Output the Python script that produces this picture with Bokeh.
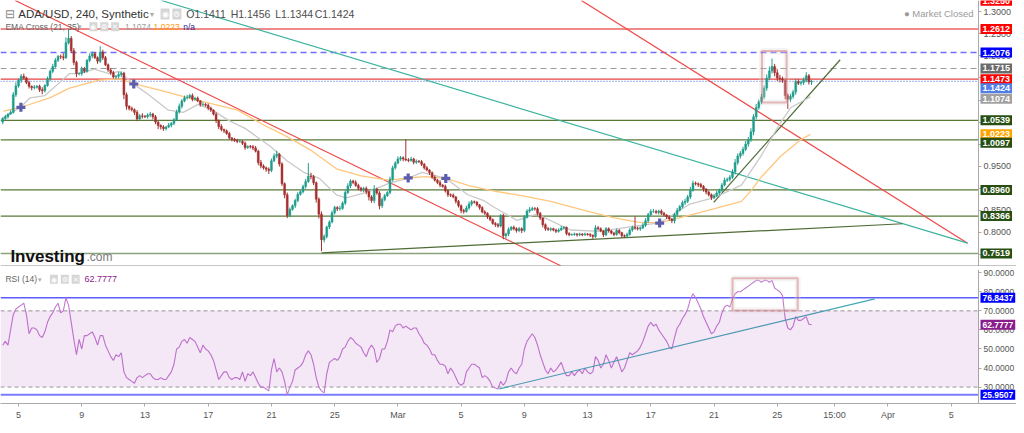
from bokeh.plotting import figure
from bokeh.models import (ColumnDataSource, Span, Label, BoxAnnotation, FixedTicker,
                          NumeralTickFormatter, Range1d)
from bokeh.layouts import column
from bokeh.embed import file_html
from bokeh.resources import INLINE

# ---------------- data (x = days since 1 Feb 2021, 4h candles) ----------------
start_day = 3.0
step = 1.0 / 6.0
first_open = 1.050
closes = [
    1.058, 1.062, 1.068, 1.072, 1.112, 1.132, 1.145, 1.154, 1.150, 1.140,
    1.131, 1.128, 1.129, 1.131, 1.123, 1.121, 1.133, 1.148, 1.165, 1.176,
    1.190, 1.199, 1.198, 1.196, 1.230, 1.240, 1.212, 1.185, 1.160, 1.160,
    1.171, 1.165, 1.190, 1.200, 1.205, 1.196, 1.188, 1.209, 1.196, 1.180,
    1.168, 1.162, 1.152, 1.154, 1.158, 1.161, 1.112, 1.086, 1.081, 1.078,
    1.072, 1.057, 1.064, 1.063, 1.062, 1.066, 1.068, 1.062, 1.050, 1.042,
    1.039, 1.035, 1.039, 1.043, 1.047, 1.055, 1.073, 1.086, 1.098, 1.105,
    1.106, 1.110, 1.102, 1.104, 1.098, 1.090, 1.090, 1.088, 1.082, 1.077,
    1.068, 1.053, 1.040, 1.033, 1.030, 1.024, 1.014, 1.011, 1.008, 1.006,
    1.006, 1.002, 0.992, 0.995, 0.994, 0.991, 0.984, 0.958, 0.950, 0.946,
    0.943, 0.940, 0.962, 0.973, 0.977, 0.955, 0.910, 0.885, 0.838, 0.852,
    0.860, 0.872, 0.886, 0.892, 0.904, 0.915, 0.927, 0.926, 0.912, 0.875,
    0.841, 0.783, 0.790, 0.812, 0.823, 0.844, 0.856, 0.853, 0.854, 0.866,
    0.890, 0.905, 0.916, 0.913, 0.906, 0.900, 0.896, 0.899, 0.892, 0.880,
    0.872, 0.898, 0.889, 0.860, 0.874, 0.883, 0.890, 0.920, 0.946, 0.957,
    0.966, 0.969, 0.966, 0.964, 0.963, 0.966, 0.959, 0.961, 0.960, 0.954,
    0.946, 0.941, 0.935, 0.925, 0.918, 0.913, 0.907, 0.904, 0.894, 0.885,
    0.884, 0.880, 0.870, 0.860, 0.849, 0.847, 0.855, 0.864, 0.869, 0.868,
    0.862, 0.856, 0.846, 0.843, 0.835, 0.829, 0.820, 0.817, 0.814, 0.838,
    0.792, 0.796, 0.806, 0.811, 0.808, 0.804, 0.808, 0.804, 0.834, 0.848,
    0.851, 0.854, 0.853, 0.843, 0.832, 0.817, 0.808, 0.806, 0.808, 0.805,
    0.802, 0.805, 0.809, 0.811, 0.797, 0.794, 0.795, 0.796, 0.794, 0.796,
    0.794, 0.796, 0.795, 0.793, 0.790, 0.810, 0.808, 0.803, 0.794, 0.808,
    0.803, 0.798, 0.795, 0.804, 0.799, 0.792, 0.791, 0.795, 0.805, 0.811,
    0.809, 0.808, 0.810, 0.816, 0.826, 0.840, 0.847, 0.847, 0.845, 0.848,
    0.843, 0.839, 0.835, 0.830, 0.826, 0.840, 0.850, 0.858, 0.867, 0.870,
    0.880, 0.895, 0.911, 0.910, 0.908, 0.904, 0.898, 0.891, 0.885, 0.879,
    0.883, 0.889, 0.895, 0.907, 0.918, 0.920, 0.925, 0.937, 0.958, 0.973,
    0.979, 0.988, 1.000, 1.010, 1.028, 1.062, 1.083, 1.096, 1.107, 1.127,
    1.150, 1.166, 1.176, 1.162, 1.150, 1.148, 1.145, 1.110, 1.102, 1.108,
    1.118, 1.142, 1.138, 1.140, 1.145, 1.155, 1.1411, 1.1424,
]
# wick lengths above / below the candle body, in thousandths
upper_wick = [
    3, 4, 2, 5, 6, 8, 4, 5, 6, 3, 4, 2, 5, 3, 4, 6, 3, 5, 4, 6,
    5, 3, 4, 8, 12, 19, 5, 6, 4, 3, 5, 4, 3, 6, 5, 4, 3, 13, 5, 4,
    3, 5, 4, 3, 6, 4, 3, 5, 2, 4, 3, 5, 4, 6, 3, 4, 5, 3, 4, 2,
    3, 4, 2, 5, 3, 4, 5, 6, 4, 5, 6, 4, 5, 3, 4, 2, 5, 3, 4, 3,
    2, 4, 3, 5, 2, 3, 4, 2, 3, 4, 5, 3, 4, 2, 3, 4, 5, 3, 6, 4,
    3, 4, 5, 6, 8, 3, 4, 3, 5, 4, 3, 4, 5, 3, 4, 6, 30, 8, 4, 3,
    4, 6, 5, 3, 4, 5, 4, 3, 6, 4, 5, 6, 4, 3, 5, 4, 3, 4, 5, 3,
    4, 9, 3, 4, 5, 4, 3, 6, 5, 4, 6, 4, 3, 45, 4, 5, 3, 4, 3, 4,
    3, 4, 2, 3, 4, 3, 5, 2, 4, 3, 3, 4, 2, 3, 3, 4, 5, 6, 4, 3,
    3, 2, 3, 4, 2, 3, 2, 3, 4, 3, 4, 3, 5, 3, 4, 3, 4, 3, 5, 4,
    6, 4, 3, 4, 3, 2, 3, 4, 3, 2, 3, 4, 5, 3, 2, 3, 2, 3, 2, 3,
    2, 3, 2, 3, 2, 6, 4, 3, 2, 4, 3, 2, 3, 4, 3, 2, 3, 4, 4, 4,
    25, 4, 3, 5, 6, 4, 5, 6, 4, 3, 4, 3, 2, 3, 2, 4, 5, 4, 5, 6,
    5, 8, 6, 4, 3, 4, 3, 2, 3, 3, 4, 5, 4, 5, 6, 4, 5, 6, 8, 6,
    5, 6, 7, 6, 8, 6, 8, 5, 7, 6, 8, 10, 18, 6, 8, 7, 5, 4, 5, 6,
    5, 6, 5, 4, 6, 8, 4, 3,
]
lower_wick = [
    5, 3, 4, 2, 3, 5, 4, 6, 3, 4, 5, 6, 4, 3, 5, 8, 4, 3, 5, 4,
    3, 4, 5, 6, 3, 4, 5, 6, 8, 4, 5, 4, 3, 4, 5, 3, 6, 4, 5, 3,
    4, 5, 3, 4, 5, 6, 10, 8, 5, 4, 6, 5, 4, 5, 3, 4, 5, 6, 5, 8,
    6, 5, 4, 3, 5, 4, 3, 4, 5, 3, 4, 3, 5, 4, 3, 5, 4, 3, 5, 4,
    3, 5, 6, 4, 5, 3, 4, 5, 3, 4, 3, 4, 5, 3, 4, 5, 3, 6, 5, 4,
    6, 8, 4, 3, 5, 6, 5, 8, 6, 4, 3, 5, 4, 3, 4, 5, 3, 6, 5, 8,
    10, 26, 6, 4, 5, 3, 4, 5, 4, 3, 4, 3, 5, 4, 3, 5, 4, 5, 6, 8,
    5, 6, 4, 8, 5, 4, 3, 4, 5, 4, 3, 4, 5, 3, 4, 3, 5, 4, 3, 4,
    4, 3, 5, 4, 3, 4, 5, 3, 4, 5, 4, 3, 5, 4, 6, 5, 3, 4, 5, 3,
    4, 5, 3, 4, 5, 4, 3, 5, 4, 3, 8, 6, 5, 3, 4, 5, 4, 6, 4, 3,
    4, 3, 4, 5, 4, 6, 5, 3, 4, 3, 4, 3, 2, 3, 4, 3, 2, 3, 4, 3,
    3, 2, 3, 4, 5, 3, 4, 3, 5, 3, 4, 3, 4, 3, 4, 5, 3, 4, 3, 4,
    3, 4, 5, 3, 4, 5, 4, 3, 4, 5, 4, 3, 5, 4, 5, 6, 4, 3, 4, 5,
    4, 5, 3, 4, 5, 4, 6, 5, 4, 6, 4, 3, 5, 4, 3, 4, 5, 4, 6, 5,
    6, 5, 4, 6, 5, 8, 6, 5, 6, 5, 6, 5, 6, 8, 7, 8, 6, 8, 22, 6,
    5, 6, 4, 5, 6, 5, 6, 7,
]
# RSI(14), one value per candle
rsi_values = [
    52, 54, 52, 60, 68, 71, 72, 73, 74, 68,
    58, 61, 61, 60, 57, 56, 59, 64, 67, 69,
    72, 74, 69, 70, 76.84, 73, 64, 55, 47, 55,
    50, 57, 57, 58, 59, 56, 52, 57, 57, 52,
    49, 46, 44, 47, 46, 48, 38, 35, 34, 33,
    32, 35, 36, 35, 36, 37, 37, 35, 34, 34,
    35, 34, 34, 36, 38, 42, 50, 51, 54, 55,
    53, 56, 55, 54, 51, 48, 52, 50, 49, 47,
    44, 39, 34, 36, 38, 38, 35, 34, 35, 35,
    34, 38, 33, 37, 36, 38, 35, 32, 30, 30,
    29, 28, 39, 45, 38, 40, 38, 33, 25.95, 30,
    33, 39, 40, 41, 43, 47, 49, 47, 42, 35,
    30, 28, 27, 37, 43, 44, 45, 44, 46, 50,
    51, 54, 56, 55, 53, 52, 51, 48, 46, 50,
    52, 50, 43, 45, 50, 50, 54, 60, 59, 62,
    63, 63, 61, 62, 61, 60, 61, 61, 58, 56,
    53, 52, 50, 47, 47, 44, 42, 42, 41, 37,
    40, 38, 35, 32, 31, 32, 38, 40, 42, 42,
    41, 40, 35, 36, 35, 33, 30, 29.5, 29, 33,
    31, 33, 38, 40, 38, 37, 40, 42, 50, 54,
    56, 58, 56, 52, 47, 43, 39, 37, 40, 38,
    39, 41, 43, 39, 36, 36, 38, 36, 38, 39,
    37, 40, 38, 37, 38, 46, 44, 40, 42, 47,
    44, 40, 43, 46, 42, 38, 40, 44, 48, 47,
    48, 49, 51, 54, 58, 62, 64, 62, 63, 60,
    58, 56, 54, 51, 50, 56, 61, 63, 66, 68,
    71, 76, 79, 77, 74, 71, 67, 64, 61, 58,
    59, 62, 64, 69, 72, 73, 72, 76, 79, 80,
    80, 81, 82, 83, 84, 85, 86, 86, 85, 86,
    86, 85, 86, 82, 81, 80, 78, 66, 61, 60,
    62, 67, 65, 65, 66, 67, 63, 62.7777,
]
# EMA Cross (21, 35) lines (day, price)
ema_fast_day = [3.04, 4.11, 4.73, 5.67, 6.61, 7.23, 7.86, 8.79, 9.73, 10.36, 11.29, 12.23,
                13.48, 14.42, 15.36, 16.29, 17.23, 18.36, 19.92, 20.98, 22.04, 23.04, 24.11,
                24.73, 26.17, 27.42, 28.67, 29.54, 31.04, 32.42, 33.48, 34.11, 35.54, 36.79,
                38.92, 40.79, 42.67, 44.54, 46.42, 48.04, 49.73, 50.98, 52.23, 52.86, 54.11]
ema_fast_val = [1.060, 1.083, 1.105, 1.110, 1.140, 1.160, 1.160, 1.170, 1.160, 1.165, 1.136,
                1.112, 1.077, 1.072, 1.090, 1.077, 1.055, 1.035, 0.995, 0.962, 0.936, 0.922,
                0.885, 0.878, 0.892, 0.911, 0.923, 0.936, 0.922, 0.885, 0.871, 0.856, 0.827,
                0.841, 0.805, 0.802, 0.812, 0.821, 0.863, 0.879, 0.907, 0.973, 1.050, 1.083,
                1.1074]
ema_slow_day = [3.04, 4.11, 5.98, 7.23, 9.11, 10.36, 11.29, 12.86, 15.36, 17.86, 19.42, 20.98,
                22.54, 24.11, 25.67, 27.42, 28.67, 29.73, 31.04, 32.54, 34.11, 35.98, 37.67,
                39.73, 41.61, 43.17, 44.54, 45.98, 47.86, 49.73, 50.36, 50.98, 52.23, 53.48,
                54.11]
ema_slow_val = [1.075, 1.083, 1.105, 1.127, 1.145, 1.148, 1.137, 1.123, 1.099, 1.077, 1.045,
                1.017, 0.985, 0.944, 0.928, 0.918, 0.923, 0.926, 0.922, 0.905, 0.893, 0.882,
                0.870, 0.850, 0.833, 0.823, 0.821, 0.834, 0.852, 0.870, 0.895, 0.925, 0.973,
                1.010, 1.0223]

# EMA-cross markers
cross_day = [4.15, 11.29, 28.65, 31.03, 44.56]
cross_price = [1.0835, 1.1363, 0.9233, 0.9220, 0.8207]

# horizontal price levels: value, colour, dash, width
level_values = [1.2612, 1.2076, 1.1715, 1.1473, 1.1424, 1.0539, 1.0097, 0.8960, 0.8366, 0.7519]
level_colors = ["#f08a8a", "#6f6fff", "#9a9a9a", "#e84040", "#5b7fe6",
                "#587a36", "#587a36", "#587a36", "#587a36", "#8aa27a"]
level_dash = ["solid", "6 4", "6 4", "solid", "1 2", "solid", "solid", "solid", "solid", "solid"]
level_width = [2, 1.5, 1.2, 1.2, 1.3, 1.3, 1.3, 1.3, 1.3, 1.5]

# drawn trend lines (day, price)
trend_x0 = [3.79, 39.61, 13.04, 23.17, 47.98]
trend_y0 = [1.3258, 1.3258, 1.3258, 0.7531, 0.8676]
trend_x1 = [38.3, 64.04, 64.04, 59.92, 55.98]
trend_y1 = [0.7240, 0.7751, 0.7751, 0.8192, 1.1914]
trend_colors = ["#f04848", "#f04848", "#3cb4a0", "#4f6b35", "#4f6b35"]

# right-axis price tags: value text, colour, offset(px)
price_tags = ["1.3250", "1.2612", "1.2076", "1.1715", "1.1473", "1.1424", "1.1074",
              "1.0539", "1.0223", "1.0097", "0.8960", "0.8366", "0.7519"]
price_tag_colors = ["#ff0000", "#ff0000", "#0000ff", "#6b6b6b", "#ff0000", "#4f7fe6", "#a0a0a0",
                    "#274e13", "#ffa500", "#274e13", "#274e13", "#274e13", "#274e13"]
price_tag_shift = [0, 0, 0, 0, 0, -7, -2, 0, 0, -3, 0, 0, 0]

rsi_tags = ["76.8437", "62.7777", "25.9507"]
rsi_tag_colors = ["#0000ff", "#8b1c8b", "#0000ff"]
rsi_max, rsi_min = 76.8437, 25.9507

# RSI trend line and highlight boxes
rsi_trend_x = [34.42, 58.17]
rsi_trend_y = [29.1, 76.3]
box_price = (51.03, 52.59, 1.0945, 1.2112)   # left, right, bottom, top
box_rsi = (49.17, 53.29, 70.2, 87.1)

x_tick_days = [4, 8, 12, 16, 20, 24, 28, 32, 36, 40, 44, 48, 52, 55.625, 59, 63]
x_tick_labels = ["5", "9", "13", "17", "21", "25", "Mar", "5", "9", "13", "17", "21", "25",
                 "15:00", "Apr", "5"]
price_ticks = [0.75, 0.80, 0.85, 0.90, 0.95, 1.00, 1.05, 1.10, 1.15, 1.20, 1.25, 1.30]
rsi_ticks = [30, 40, 50, 60, 70, 80, 90]

# ---------------- derived series ----------------
n = min(len(closes), len(upper_wick), len(lower_wick), len(rsi_values))
closes = closes[:n]
times = [start_day + i * step for i in range(n)]
opens = [first_open] + closes[:-1]
highs = [max(o, c) + u / 1000.0 for o, c, u in zip(opens, closes, upper_wick)]
lows = [min(o, c) - d / 1000.0 for o, c, d in zip(opens, closes, lower_wick)]
UP, DOWN = "#1f9d8c", "#a5302f"
colors = [UP if c >= o else DOWN for o, c in zip(opens, closes)]

src = ColumnDataSource(dict(t=times, o=opens, c=closes, h=highs, l=lows, col=colors,
                            top=[max(o, c) for o, c in zip(opens, closes)],
                            bot=[min(o, c) for o, c in zip(opens, closes)],
                            r=rsi_values[:n]))

# ---------------- layout ----------------
FONT = "Liberation Sans"
FW, FH1, FH2 = 1016, 266, 134
AXIS_PX = 978.0
X_START, AXIS_X = 2.86, 64.73            # left edge and price-axis position (days)
PX_PER_DAY = AXIS_PX / (AXIS_X - X_START)
X_END = X_START + FW / PX_PER_DAY
KX, KY1, KY2 = AXIS_PX / 990.0, FH1 / 274.0, FH2 / 137.0
xr = Range1d(X_START, X_END)

common = dict(frame_width=FW, x_range=xr, output_backend="svg", toolbar_location=None,
              y_axis_location="right", min_border_left=0, min_border_right=0)
p1 = figure(frame_height=FH1, y_range=Range1d(0.7222, 1.3258), x_axis_location=None,
            min_border_top=0, min_border_bottom=0, **common)
p2 = figure(frame_height=FH2, y_range=Range1d(21.4, 91.7), min_border_top=3,
            min_border_bottom=0, **common)

for p, fs in ((p1, "9px"), (p2, "8.5px")):
    p.grid.visible = False
    p.outline_line_color = None
    p.yaxis.fixed_location = AXIS_X
    p.yaxis.axis_line_color = "#aaaaaa"
    p.yaxis.major_tick_line_color = "#aaaaaa"
    p.yaxis.major_tick_out = 3
    p.yaxis.major_tick_in = 0
    p.yaxis.minor_tick_line_color = None
    p.yaxis.major_label_text_font = FONT
    p.yaxis.major_label_text_font_size = fs
    p.yaxis.major_label_text_color = "#555555"
    p.yaxis.major_label_standoff = 2
    p.yaxis.formatter = NumeralTickFormatter(format="0.0000")

p1.yaxis.ticker = FixedTicker(ticks=price_ticks)
p2.yaxis.ticker = FixedTicker(ticks=rsi_ticks)

p2.xaxis.ticker = FixedTicker(ticks=x_tick_days)
p2.xaxis.major_label_overrides = {k: v for k, v in zip(x_tick_days, x_tick_labels)}
p2.xaxis.axis_line_color = "#aaaaaa"
p2.xaxis.major_tick_line_color = "#aaaaaa"
p2.xaxis.major_tick_out = 3
p2.xaxis.major_tick_in = 0
p2.xaxis.minor_tick_line_color = None
p2.xaxis.major_label_text_font = FONT
p2.xaxis.major_label_text_font_size = "9px"
p2.xaxis.major_label_text_color = "#555555"
p2.xaxis.major_label_standoff = 3

# ---------------- price panel ----------------
for v, c, d, w in zip(level_values, level_colors, level_dash, level_width):
    p1.segment([X_START], [v], [AXIS_X], [v], line_color=c, line_dash=d, line_width=w)
p1.add_layout(Span(location=0.7222, dimension="width", line_color="#8c8c8c", line_width=2))

p1.segment(trend_x0, trend_y0, trend_x1, trend_y1, line_color=trend_colors, line_width=1.2)

p1.line(ema_fast_day, ema_fast_val, line_color="#c9c9c9", line_width=1.3)
p1.line(ema_slow_day, ema_slow_val, line_color="#ffc77d", line_width=1.3)

p1.segment("t", "l", "t", "h", source=src, line_color="col", line_width=1)
p1.vbar(x="t", width=step * 0.72, top="top", bottom="bot", source=src,
        fill_color="col", line_color="col", line_width=0.5)

p1.scatter(cross_day, cross_price, marker="cross", size=9, line_width=3.2, line_color="#5d5dae")

bl, br, bb, bt = box_price
p1.add_layout(BoxAnnotation(left=bl, right=br, bottom=bb, top=bt, fill_alpha=0,
                            line_color="#dcdcdc", line_width=6))
p1.add_layout(BoxAnnotation(left=bl, right=br, bottom=bb, top=bt, fill_alpha=0,
                            line_color="#c0282d", line_width=2))


def tag(p, txt, yv, color, shift, size="9px"):
    p.add_layout(Label(x=AXIS_X, y=yv, x_units="data", y_units="data", text=txt,
                       x_offset=2, y_offset=shift, text_align="left", text_baseline="middle",
                       text_font=FONT, text_font_size=size, text_font_style="bold",
                       text_color="white", background_fill_color=color, padding=2))


for txt, col, sh in zip(price_tags, price_tag_colors, price_tag_shift):
    tag(p1, txt, float(txt), col, sh)


def note(p, x, ytop, txt, fh, ky, size="11px", color="#444444", style="normal",
         align="left", baseline="middle", bg=None, pad=0):
    p.add_layout(Label(x=x * KX, y=fh - ytop * ky, x_units="screen", y_units="screen", text=txt,
                       text_font=FONT, text_font_size=size, text_color=color,
                       text_font_style=style, text_align=align, text_baseline=baseline,
                       background_fill_color=bg, padding=pad))


note(p1, 5, 14, "⊟", FH1, KY1, size="12px", color="#888888")
note(p1, 18, 14, "ADA/USD, 240, Synthetic", FH1, KY1, size="11.5px", color="#333333")
note(p1, 151, 14, "▾", FH1, KY1, size="8px", color="#aaaaaa")
note(p1, 162, 14, "◉", FH1, KY1, size="8px", color="white", bg="#d6d6d6", pad=1)
note(p1, 174, 14, "⚙", FH1, KY1, size="8px", color="white", bg="#d6d6d6", pad=1)
for xx, s in zip([188, 233, 278, 318], ["O1.1411", "H1.1456", "L1.1344", "C1.1424"]):
    note(p1, xx, 14, s, FH1, KY1, size="10.5px", color="#4d4d4d")
note(p1, 5, 27, "EMA Cross (21, 35)", FH1, KY1, size="8.5px", color="#666666")
note(p1, 78, 27, "▾", FH1, KY1, size="7px", color="#aaaaaa")
note(p1, 90, 27, "◉", FH1, KY1, size="7px", color="white", bg="#d6d6d6", pad=1)
note(p1, 101, 27, "⚙", FH1, KY1, size="7px", color="white", bg="#d6d6d6", pad=1)
note(p1, 112, 27, "✕", FH1, KY1, size="7px", color="white", bg="#d6d6d6", pad=1)
note(p1, 126, 27, "1.1074", FH1, KY1, size="8.5px", color="#a0a0a0")
note(p1, 155, 27, "1.0223", FH1, KY1, size="8.5px", color="#ff9900")
note(p1, 185, 27, "n/a", FH1, KY1, size="8.5px", color="#2d2d8f")
note(p1, 985, 13, "● Market Closed", FH1, KY1, size="9.5px", color="#9a9a9a", align="right")
note(p1, 10, 264, "Investing", FH1, KY1, size="17px", color="#111111", style="bold",
     baseline="alphabetic")
note(p1, 87, 264, ".com", FH1, KY1, size="12px", color="#7a7a7a", baseline="alphabetic")

# ---------------- RSI panel ----------------
p2.add_layout(BoxAnnotation(bottom=30, top=70, right=AXIS_X, fill_color="#9c27b0",
                            fill_alpha=0.11, line_alpha=0))
for lv, lc, ld, lw in [(70, "#9a9a9a", "4 3", 1), (30, "#9a9a9a", "4 3", 1),
                       (rsi_max, "#5c5cff", "solid", 1.5), (rsi_min, "#7b7bff", "solid", 2)]:
    p2.segment([X_START], [lv], [AXIS_X], [lv], line_color=lc, line_dash=ld, line_width=lw)

p2.line("t", "r", source=src, line_color="#c27ad0", line_width=1.1)
p2.line(rsi_trend_x, rsi_trend_y, line_color="#45a7b5", line_width=1.2)

rl, rr, rb, rt = box_rsi
p2.add_layout(BoxAnnotation(left=rl, right=rr, bottom=rb, top=rt, fill_alpha=0,
                            line_color="#dcdcdc", line_width=6))
p2.add_layout(BoxAnnotation(left=rl, right=rr, bottom=rb, top=rt, fill_alpha=0,
                            line_color="#c0282d", line_width=2))

for txt, col in zip(rsi_tags, rsi_tag_colors):
    tag(p2, txt, float(txt), col, 0, size="8.5px")

note(p2, 5, 10, "RSI (14)", FH2, KY2, size="8.5px", color="#666666")
note(p2, 38, 10, "▾", FH2, KY2, size="7px", color="#aaaaaa")
note(p2, 50, 10, "◉", FH2, KY2, size="7px", color="white", bg="#d6d6d6", pad=1)
note(p2, 61, 10, "⚙", FH2, KY2, size="7px", color="white", bg="#d6d6d6", pad=1)
note(p2, 72, 10, "✕", FH2, KY2, size="7px", color="white", bg="#d6d6d6", pad=1)
note(p2, 85, 10, "62.7777", FH2, KY2, size="9px", color="#8b1c8b")

layout = column(p1, p2)
open("out.html", "w").write(file_html(layout, INLINE))
